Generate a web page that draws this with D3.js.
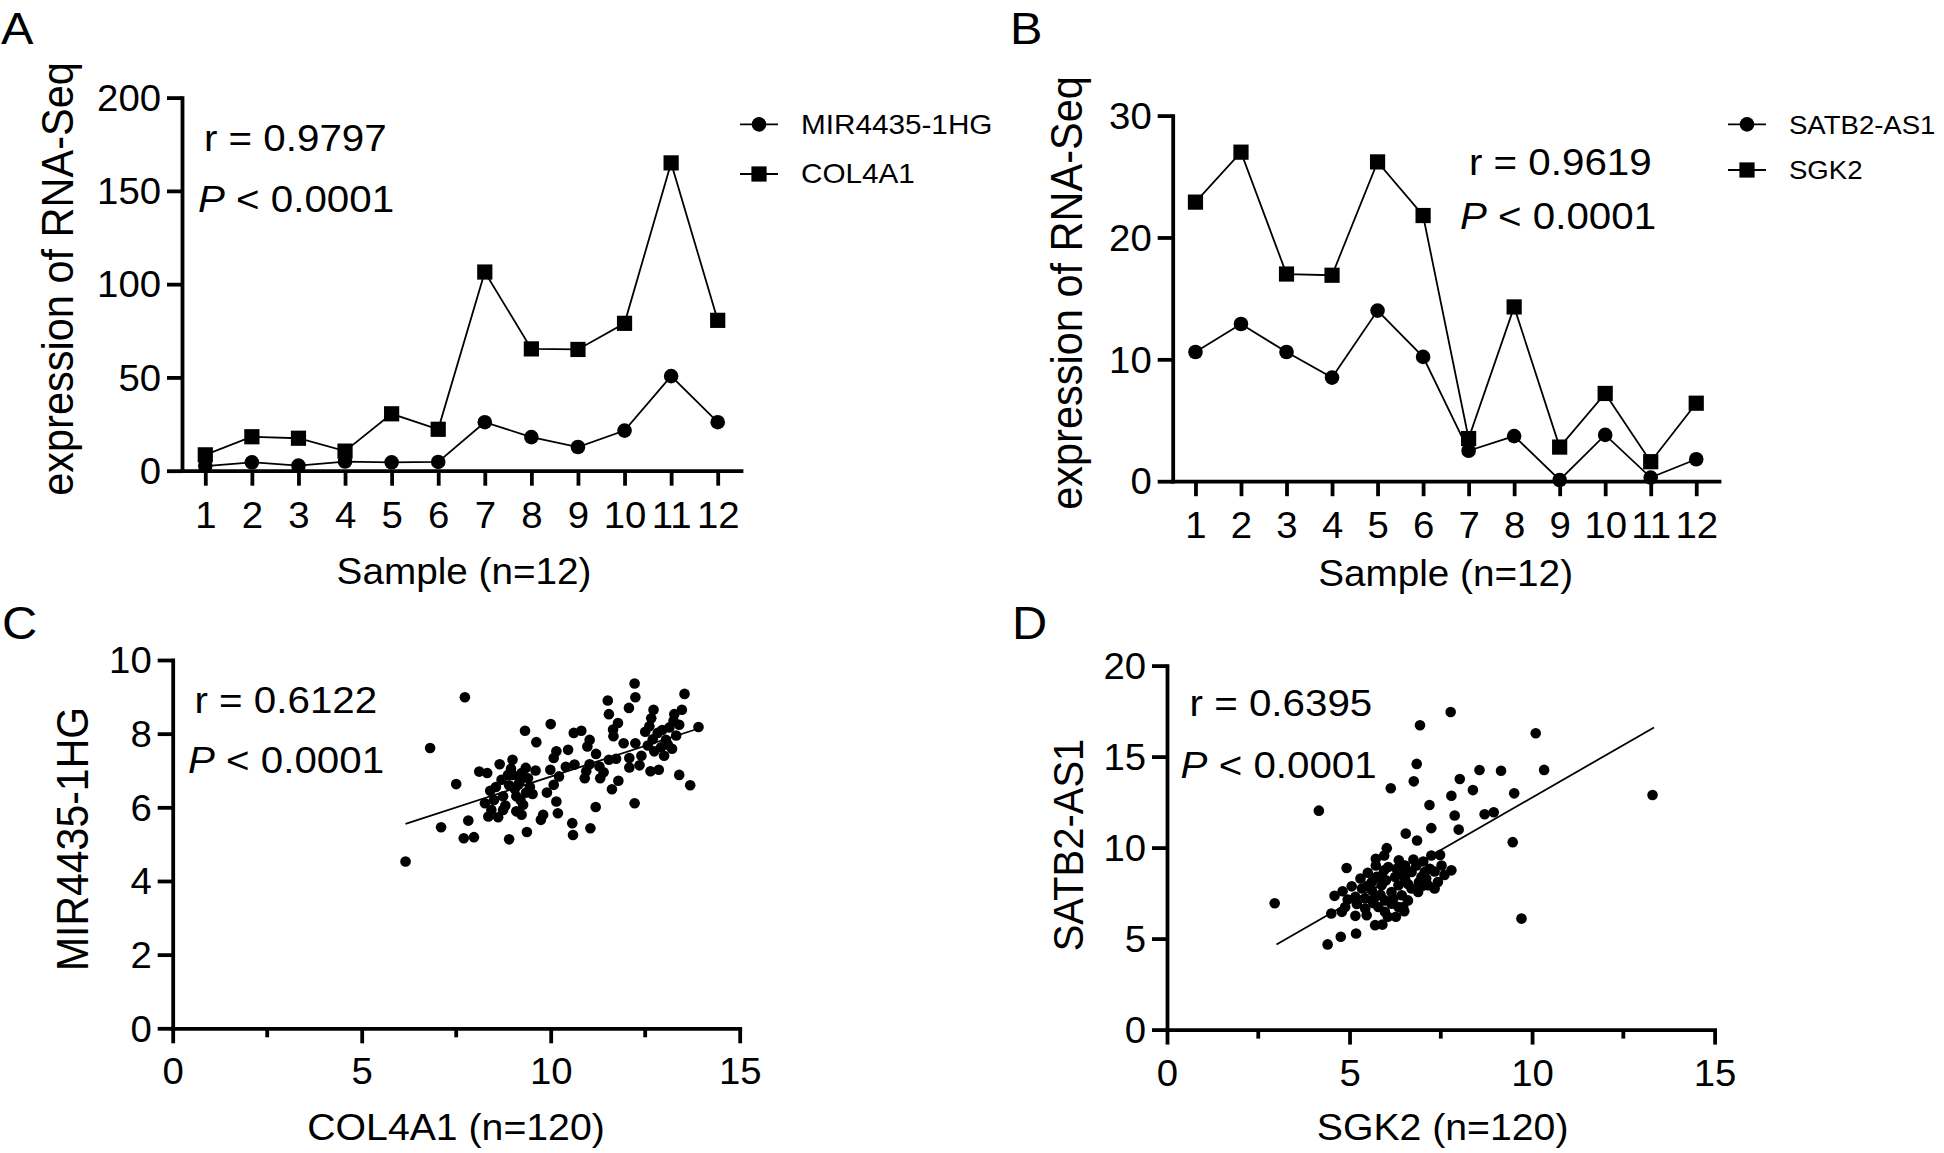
<!DOCTYPE html>
<html><head><meta charset="utf-8">
<script src="https://cdn.jsdelivr.net/npm/d3@7/dist/d3.min.js"></script>
<style>html,body{margin:0;padding:0;background:#fff;} svg{display:block;}</style>
</head><body>
<script>
// ---------------- data ----------------
const sampleTicks = [1,2,3,4,5,6,7,8,9,10,11,12];
// Panel A
const mir4435A = [2.5,4.5,2.7,4.9,4.5,4.7,26,18,12.7,21.5,50.7,26];
const col4a1A  = [8.5,18.2,17.4,10.5,30.5,22.2,106.5,65.3,65,79,165,80.6];
const ticksA = [0,50,100,150,200];
// Panel B
const satb2B = [10.6,12.9,10.6,8.5,14.0,10.2,2.5,3.7,0.1,3.8,0.3,1.8];
const sgk2B  = [22.9,27.0,17.0,16.9,26.2,21.8,3.5,14.3,2.8,7.2,1.6,6.4];
const ticksB = [0,10,20,30];
// Panel C  (x = COL4A1, y = MIR4435-1HG)
const colC = [7.73,6.81,6.16,7.50,7.10,7.82,7.70,7.97,8.90,9.37,9.74,9.80,9.32,9.62,10.00,8.11,8.32,8.65,8.99,8.55,8.87,9.34,9.40,9.14,8.74,9.09,9.52,8.26,8.43,8.74,8.35,8.61,9.09,9.27,9.23,9.00,9.23,9.18,10.15,10.08,9.99,10.08,10.15,10.19,
  12.22,12.24,11.51,12.07,11.54,13.54,13.47,13.27,12.72,12.66,12.61,13.91,13.40,13.14,12.83,13.32,13.05,11.78,11.65,11.66,11.93,12.24,12.57,12.74,13.21,12.92,10.61,10.81,11.03,10.97,10.46,10.63,10.22,11.03,10.94,11.29,11.54,11.73,10.90,11.31,12.08,12.08,12.35,12.64,12.86,13.40,13.69,11.79,11.62,12.22,11.19,10.57,10.59,11.05,
  8.80,9.05,8.95,9.45,8.50,9.20,8.70,9.60,8.40,9.35,12.95,13.10,12.70,13.25,12.50,11.20,10.40,12.40,9.90,8.90,11.40,13.00];
const mirC = [8.99,7.61,4.53,6.63,5.46,5.64,5.16,5.19,5.13,5.33,5.66,5.80,8.08,7.77,8.26,6.97,6.93,7.17,7.29,6.55,6.88,7.07,6.79,6.61,6.30,6.30,6.36,6.11,5.93,5.93,5.75,5.73,5.89,6.07,5.80,6.88,6.93,6.70,7.52,7.34,7.02,6.61,6.16,5.84,
  9.36,8.99,8.90,8.70,8.53,9.08,8.65,8.53,8.65,8.42,8.20,8.18,8.24,8.17,8.02,7.95,7.83,8.29,8.11,7.93,7.74,7.74,7.68,7.52,7.59,7.63,8.02,8.08,7.83,7.65,7.56,7.16,6.84,7.17,6.98,7.11,7.29,7.32,6.79,6.79,7.34,7.08,7.14,6.98,7.02,6.88,6.60,6.72,6.49,6.11,6.01,5.57,5.25,5.43,
  6.05,6.50,7.05,6.55,6.20,6.20,6.75,7.00,6.45,6.40,8.10,7.70,7.85,8.35,8.05,7.45,7.10,7.40,6.40,6.60,6.95,7.40];
const fitC = [[6.16,5.55],[13.91,8.14]];
// Panel D  (x = SGK2, y = SATB2-AS1)
const sgkD = [7.77,6.93,6.84,6.76,6.13,4.16,7.79,7.19,7.88,7.24,6.54,6.85,2.95,4.40,4.76,5.18,4.92,6.02,5.95,5.72,5.50,4.59,4.50,4.81,5.06,4.88,5.16,5.70,5.90,6.27,6.47,7.24,7.20,7.48,7.33,7.42,7.79,
  10.10,8.56,9.15,10.33,8.02,8.38,9.51,8.70,8.95,7.99,9.47,13.30,9.71,
  5.72,6.06,7.02,6.83,6.70,6.97,7.15,6.52,6.34,6.70,6.88,6.43,6.15,5.88,5.61,5.34,5.16,5.43,5.70,5.97,5.79,6.15,6.34,4.79,5.43,5.47,5.97,7.52,7.06,5.88,6.25,5.61,6.52,6.29,7.33,5.74,
  6.0,6.6,5.3,6.9,6.2,5.5,6.45,7.1,5.85,6.6,5.2,6.05,7.0,5.65,6.35,4.95,6.75,5.95,7.6,6.5];
const satbD = [17.45,16.72,14.60,13.64,13.26,12.03,12.85,12.34,11.76,11.07,10.77,10.39,6.94,4.68,5.10,5.28,8.88,9.97,9.57,9.39,8.62,7.35,6.38,7.60,7.87,6.74,6.25,5.74,5.77,6.20,6.74,9.57,8.84,9.60,8.69,8.11,8.75,
  16.28,14.26,14.22,14.27,13.77,13.16,12.98,11.83,11.94,10.99,10.30,12.89,6.10,
  9.02,8.93,9.24,9.02,8.66,8.39,7.93,8.29,7.93,7.75,7.56,7.38,7.56,7.93,8.11,7.75,7.29,7.20,7.29,7.10,6.74,6.92,6.74,6.47,6.65,6.28,6.47,9.02,8.66,8.47,8.39,7.65,9.02,8.84,7.75,8.39,
  8.2,8.0,8.3,8.1,7.2,7.9,8.6,8.3,7.4,7.1,6.9,6.2,7.9,6.95,9.3,7.15,9.35,8.75,8.5,6.5];
const fitD = [[3.0,4.68],[13.34,16.6]];
const ticksCDx = [0,5,10,15];
const minorCDx = [2.5,7.5,12.5];
const ticksCy = [0,2,4,6,8,10];
const ticksDy = [0,5,10,15,20];

// ---------------- setup ----------------
const W = 1944, H = 1153;
const FONT = "'Liberation Sans', Arial, Helvetica, sans-serif";
const AX = 3.8;
const svg = d3.select("body").append("svg").attr("width", W).attr("height", H);
svg.append("rect").attr("width", W).attr("height", H).attr("fill", "#fff");

function T(x, y, str, size, anchor, sx, rot) {
  const tr = rot ? `translate(${x},${y}) rotate(-90) scale(1,${sx})` : `translate(${x},${y}) scale(${sx},1)`;
  return svg.append("text").attr("transform", tr).attr("font-size", size)
    .attr("font-family", FONT).attr("text-anchor", anchor || "start").attr("fill", "#000").text(str);
}
function stats(x1, y1, x2, y2, r) {
  T(x1, y1, "r = " + r, 37.5, "start", 1.075);
  const t = T(x2, y2, "", 37.5, "start", 1.075);
  t.append("tspan").attr("font-style", "italic").text("P");
  t.append("tspan").text(" < 0.0001");
}
const TSX = 1.05, TFS = 36.5;
function styleAxis(g, kind, off) {
  g.attr("font-family", FONT).attr("font-size", TFS).attr("color", "#000");
  g.selectAll("path,line").attr("stroke-width", AX);
  g.selectAll("path").attr("stroke-linecap", "square");
  if (kind === "left") {
    g.selectAll(".tick text").attr("x", 0).attr("dy", "0.35em")
      .attr("transform", `translate(${-off},0) scale(${TSX},1)`);
  } else {
    g.selectAll(".tick text").attr("y", 0).attr("dy", 0)
      .attr("transform", `translate(0,${off}) scale(${TSX},1)`);
  }
}
function marker(g, type, x, y) {
  if (type === "circle") g.append("circle").attr("cx", x).attr("cy", y).attr("r", 7.3).attr("fill", "#000");
  else g.append("rect").attr("x", x - 7.6).attr("y", y - 7.6).attr("width", 15.2).attr("height", 15.2).attr("fill", "#000");
}

function linePanel(o) {
  const x = d3.scalePoint().domain(sampleTicks).range([o.x0, o.x1]).padding(0.5);
  const y = d3.scaleLinear().domain([0, o.ymax]).range([o.yb, o.yt]);
  const line = d3.line().x((d, i) => x(sampleTicks[i])).y(d => y(d));
  const g = svg.append("g");
  [[o.s2, "rect"], [o.s1, "circle"]].forEach(([s, m]) => {
    g.append("path").datum(s).attr("d", line).attr("fill", "none").attr("stroke", "#000").attr("stroke-width", 1.8);
    s.forEach((v, i) => marker(g, m, x(sampleTicks[i]), y(v)));
  });
  const gx = svg.append("g").attr("transform", `translate(0,${o.yb})`)
    .call(d3.axisBottom(x).tickSize(15).tickSizeOuter(0));
  styleAxis(gx, "bottom", 57);
  const gy = svg.append("g").attr("transform", `translate(${o.x0},0)`)
    .call(d3.axisLeft(y).tickValues(o.ticks).tickSize(15).tickSizeOuter(0).tickFormat(d3.format("d")));
  styleAxis(gy, "left", 21);
  // legend
  const lg = svg.append("g");
  [[o.n1, "circle", o.ly1], [o.n2, "rect", o.ly2]].forEach(([n, m, ly]) => {
    lg.append("line").attr("x1", o.lx - 19).attr("x2", o.lx + 19).attr("y1", ly).attr("y2", ly)
      .attr("stroke", "#000").attr("stroke-width", 1.8);
    marker(lg, m, o.lx, ly);
    T(o.lx + 42, ly, n, o.lfs, "start", o.lsx).attr("dy", "0.35em");
  });
}

function scatterPanel(o) {
  const x = d3.scaleLinear().domain([0, 15]).range([o.x0, o.x1]);
  const y = d3.scaleLinear().domain([0, o.ymax]).range([o.yb, o.yt]);
  const g = svg.append("g");
  o.xs.forEach((v, i) => g.append("circle").attr("cx", x(v)).attr("cy", y(o.ys[i])).attr("r", 5.3).attr("fill", "#000"));
  g.append("path").datum(o.fit).attr("d", d3.line().x(d => x(d[0])).y(d => y(d[1])))
    .attr("stroke", "#000").attr("stroke-width", 1.8).attr("fill", "none");
  const gx = svg.append("g").attr("transform", `translate(0,${o.yb})`)
    .call(d3.axisBottom(x).tickValues(ticksCDx).tickSize(15).tickSizeOuter(0).tickFormat(d3.format("d")));
  styleAxis(gx, "bottom", 56);
  gx.selectAll(".minor").data(minorCDx).enter().append("line").attr("class", "minor")
    .attr("x1", d => x(d)).attr("x2", d => x(d)).attr("y1", 0).attr("y2", 9)
    .attr("stroke", "#000").attr("stroke-width", AX);
  const gy = svg.append("g").attr("transform", `translate(${o.x0},0)`)
    .call(d3.axisLeft(y).tickValues(o.ticks).tickSize(15).tickSizeOuter(0).tickFormat(d3.format("d")));
  styleAxis(gy, "left", 21);
}

// ---------------- Panel A ----------------
T(1, 44, "A", 45, "start", 1.08);
linePanel({x0: 182, x1: 741, yb: 470.7, yt: 97.6, ymax: 200, ticks: ticksA,
  s1: mir4435A, s2: col4a1A, n1: "MIR4435-1HG", n2: "COL4A1", lx: 759, ly1: 124.4, ly2: 174, lfs: 27, lsx: 1.1});
stats(204, 151, 198, 212, "0.9797");
T(464, 584, "Sample (n=12)", 36.5, "middle", 1.06);
T(73, 279, "expression of RNA-Seq", 41.5, "middle", 1.08, true);

// ---------------- Panel B ----------------
T(1010, 44, "B", 45, "start", 1.08);
linePanel({x0: 1172.7, x1: 1719, yb: 481.2, yt: 115.6, ymax: 30, ticks: ticksB,
  s1: satb2B, s2: sgk2B, n1: "SATB2-AS1", n2: "SGK2", lx: 1747, ly1: 124.4, ly2: 170, lfs: 26.5, lsx: 1.04});
stats(1469, 175, 1460, 228.5, "0.9619");
T(1445.6, 586, "Sample (n=12)", 36.5, "middle", 1.06);
T(1082, 293, "expression of RNA-Seq", 41.5, "middle", 1.08, true);

// ---------------- Panel C ----------------
T(2, 639, "C", 46, "start", 1.06);
scatterPanel({x0: 172.7, x1: 739.7, yb: 1028.3, yt: 660, ymax: 10, ticks: ticksCy,
  xs: colC, ys: mirC, fit: fitC});
stats(194.5, 713, 188, 773, "0.6122");
T(456, 1140, "COL4A1 (n=120)", 37, "middle", 1.06);
T(88, 839, "MIR4435-1HG", 41, "middle", 1.08, true);

// ---------------- Panel D ----------------
T(1012, 639, "D", 46, "start", 1.06);
scatterPanel({x0: 1167, x1: 1714.6, yb: 1029.6, yt: 665.6, ymax: 20, ticks: ticksDy,
  xs: sgkD, ys: satbD, fit: fitD});
stats(1189.6, 716.4, 1180.6, 778, "0.6395");
T(1442.6, 1140, "SGK2 (n=120)", 37, "middle", 1.06);
T(1083, 845, "SATB2-AS1", 40, "middle", 1.08, true);
</script>
</body></html>
